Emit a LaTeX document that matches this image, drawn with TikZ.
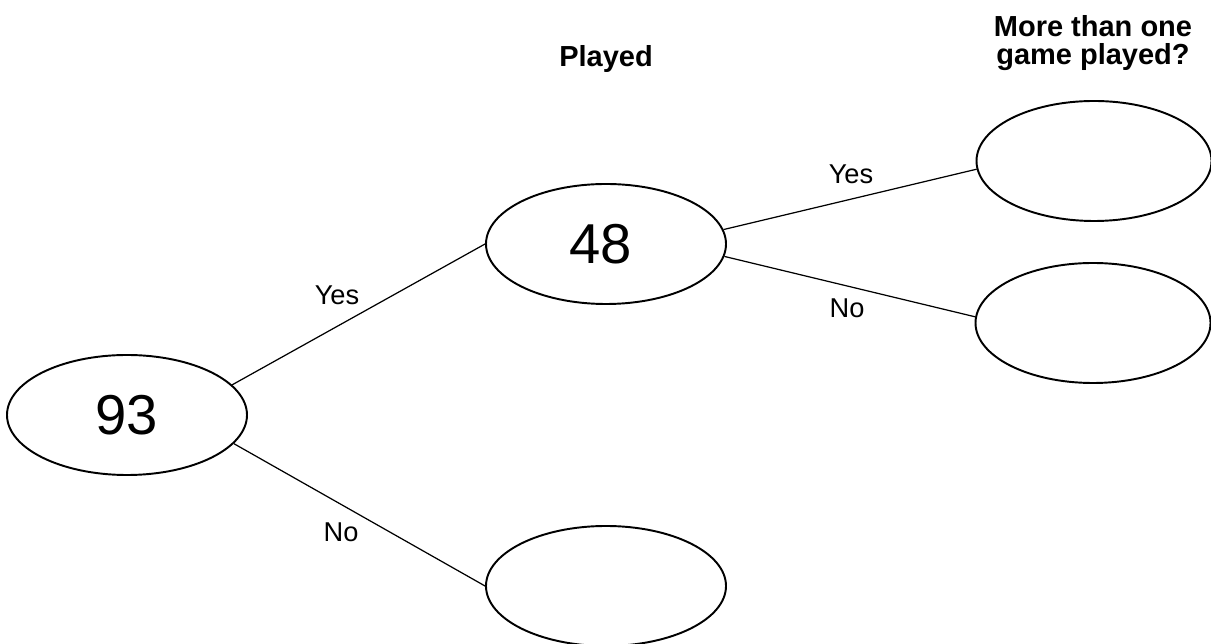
\documentclass[tikz,border=0pt]{standalone}
\usepackage{fontspec}
\setmainfont{Liberation Sans}
\usepackage{tikz}
\usetikzlibrary{shapes.geometric,positioning}

\begin{document}
\begin{tikzpicture}[
    bubble/.style={ellipse,draw,line width=1.1pt,minimum width=4.8cm,minimum height=2.4cm,inner sep=0pt,font=\fontsize{32}{38}\selectfont},
    branch/.style={line width=0.7pt},
    lbl/.style={font=\fontsize{15.5}{18}\selectfont},
    head/.style={font=\fontsize{16.5}{16}\selectfont\bfseries,align=center}]
        \useasboundingbox (0,0) rectangle (24.22,12.88);
        \node[bubble] (n93) at (2.54,4.58) {93};
        \node[bubble] (n48) at (12.12,8.00) {\hspace*{-0.2cm}48};
        \node[bubble] (nNo) at (12.12,1.16) {};
        \node[bubble,minimum width=4.7cm] (nYY) at (21.88,9.66) {};
        \node[bubble,minimum width=4.7cm] (nYN) at (21.86,6.42) {};
        \draw[branch] (n93.16)--(n48.west);
        \draw[branch] (n93.-15)--(nNo.west);
        \draw[branch] (n48.7)--(nYY.184);
        \draw[branch] (n48.-6)--(nYN.177);
        \node[lbl] (yes1) at (6.74,6.98) {Yes};
        \node[lbl] (no1) at (6.82,2.24) {No};
        \node[lbl] (yes2) at (17.02,9.40) {Yes};
        \node[lbl] (no2) at (16.94,6.72) {No};
        \node[head,anchor=base] (played) at (12.12,11.54) {Played};
        \node[head] (more) at (21.86,12.02) {More than one\\game played?};
      \end{tikzpicture}
\end{document}
